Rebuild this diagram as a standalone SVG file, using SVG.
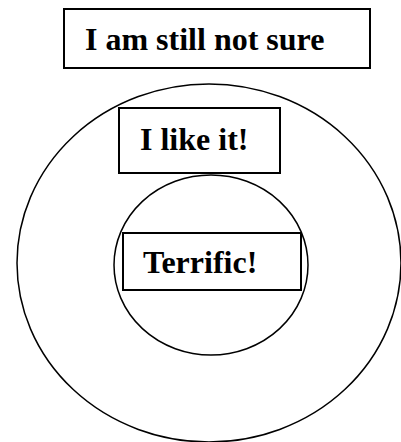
<svg xmlns="http://www.w3.org/2000/svg" width="401" height="442" viewBox="0 0 401 442">
<style>
.shape{fill:none;stroke:#000;stroke-width:1.5}
.box{fill:#fff;stroke:#000;stroke-width:2}
.lbl{font-family:"Liberation Serif","Times New Roman",serif;font-weight:bold;font-size:32px;fill:#000}
</style>
<rect width="401" height="442" fill="#fff"/>
<g id="outer-circle"><ellipse class="shape" cx="209" cy="263" rx="192" ry="179"/></g>
<g id="inner-circle"><ellipse class="shape" cx="211" cy="265" rx="97" ry="90"/></g>
<g id="node-unsure"><rect class="box" x="64" y="9" width="306" height="59"/><text class="lbl" x="85" y="50">I am still not sure</text></g>
<g id="node-like"><rect class="box" x="119" y="108" width="161" height="65"/><text class="lbl" x="140" y="150">I like it!</text></g>
<g id="node-terrific"><rect class="box" x="123" y="233" width="178" height="57"/><text class="lbl" x="143" y="273">Terrific!</text></g>
<g id="connectors"/>
</svg>
